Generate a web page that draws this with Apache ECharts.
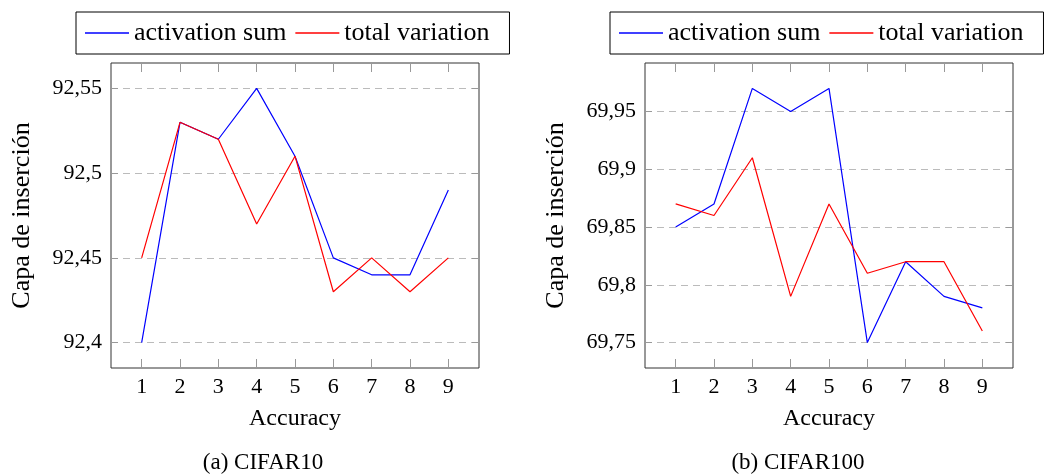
<!DOCTYPE html>
<html>
<head>
<meta charset="utf-8">
<script src="https://cdn.jsdelivr.net/npm/echarts@6/dist/echarts.min.js"></script>
<style>
  html, body { margin: 0; padding: 0; background: #fff; }
  #chart { width: 1056px; height: 475px; }
</style>
</head>
<body>
<div id="chart"></div>
<script>
// datos
const xVals = [1, 2, 3, 4, 5, 6, 7, 8, 9];

const cifar10Act = [92.40, 92.53, 92.52, 92.55, 92.51, 92.45, 92.44, 92.44, 92.49];
const cifar10Tv  = [92.45, 92.53, 92.52, 92.47, 92.51, 92.43, 92.45, 92.43, 92.45];
const cifar10Ticks = [92.4, 92.45, 92.5, 92.55];

const cifar100Act = [69.85, 69.87, 69.97, 69.95, 69.97, 69.75, 69.82, 69.79, 69.78];
const cifar100Tv  = [69.87, 69.86, 69.91, 69.79, 69.87, 69.81, 69.82, 69.82, 69.76];
const cifar100Ticks = [69.75, 69.8, 69.85, 69.9, 69.95];

const FONT = 'Liberation Serif';

function pairs(ys) {
  return xVals.map((x, i) => [x, ys[i]]);
}
function fmt(v) {
  return String(+v.toFixed(2)).replace('.', ',');
}

let myChart = echarts.init(document.getElementById('chart'));

function xAxes(gi) {
  return [{
    type: 'value', gridIndex: gi, position: 'bottom',
    min: 0.2, max: 9.8,
    name: 'Accuracy', nameLocation: 'middle', nameGap: 39,
    nameTextStyle: { fontFamily: FONT, fontSize: 24, color: '#000' },
    axisLine: { show: false },
    axisTick: { inside: true, length: 9, customValues: xVals, lineStyle: { color: '#999' } },
    axisLabel: { customValues: xVals, margin: 8, fontFamily: FONT, fontSize: 22, color: '#000' },
    splitLine: { show: false }
  }, {
    type: 'value', gridIndex: gi, position: 'top',
    min: 0.2, max: 9.8,
    axisLine: { show: false },
    axisTick: { inside: true, length: 9, customValues: xVals, lineStyle: { color: '#999' } },
    axisLabel: { show: false },
    splitLine: { show: false }
  }];
}

function yAxes(gi, min, max, ticks) {
  return [{
    type: 'value', gridIndex: gi, position: 'left',
    min: min, max: max,
    name: 'Capa de inserción', nameLocation: 'middle', nameGap: 76,
    nameTextStyle: { fontFamily: FONT, fontSize: 26, color: '#000' },
    axisLine: { show: false },
    axisTick: { inside: true, length: 7, customValues: ticks, lineStyle: { color: '#999' } },
    axisLabel: { customValues: ticks, margin: 9, formatter: fmt, fontFamily: FONT, fontSize: 22, color: '#000' },
    splitLine: { show: true, lineStyle: { color: '#bbb', type: [7, 5], width: 1 } }
  }, {
    type: 'value', gridIndex: gi, position: 'right',
    min: min, max: max,
    axisLine: { show: false },
    axisTick: { inside: true, length: 7, customValues: ticks, lineStyle: { color: '#999' } },
    axisLabel: { show: false },
    splitLine: { show: false }
  }];
}

function legend(left) {
  return {
    left: left, top: 12,
    orient: 'horizontal',
    data: ['activation sum', 'total variation'],
    icon: 'rect',
    itemWidth: 44, itemHeight: 1.3, itemGap: 9,
    padding: [8, 20, 8, 9],
    borderColor: '#000', borderWidth: 1,
    textStyle: { fontFamily: FONT, fontSize: 26, color: '#000' }
  };
}

function line(name, color, xi, yi, ys) {
  return {
    name: name, type: 'line',
    xAxisIndex: xi, yAxisIndex: yi,
    symbol: 'none',
    lineStyle: { color: color, width: 1.2 },
    itemStyle: { color: color },
    data: pairs(ys),
    animation: false
  };
}

let option = {
  animation: false,
  title: [
    { text: '(a) CIFAR10', left: 258, top: 446, textAlign: 'center',
      textStyle: { fontFamily: FONT, fontSize: 23, fontWeight: 'normal', color: '#000' } },
    { text: '(b) CIFAR100', left: 793, top: 446, textAlign: 'center',
      textStyle: { fontFamily: FONT, fontSize: 23, fontWeight: 'normal', color: '#000' } }
  ],
  legend: [legend(76), legend(610)],
  grid: [
    { left: 111, top: 63, width: 368, height: 305, show: true, borderColor: '#333', borderWidth: 1 },
    { left: 645, top: 63, width: 368, height: 305, show: true, borderColor: '#333', borderWidth: 1 }
  ],
  xAxis: xAxes(0).concat(xAxes(1)),
  yAxis: yAxes(0, 92.385, 92.565, cifar10Ticks).concat(yAxes(1, 69.728, 69.992, cifar100Ticks)),
  series: [
    line('activation sum', '#0000ff', 0, 0, cifar10Act),
    line('total variation', '#ff0000', 0, 0, cifar10Tv),
    line('activation sum', '#0000ff', 2, 2, cifar100Act),
    line('total variation', '#ff0000', 2, 2, cifar100Tv)
  ]
};

myChart.setOption(option);
</script>
</body>
</html>
